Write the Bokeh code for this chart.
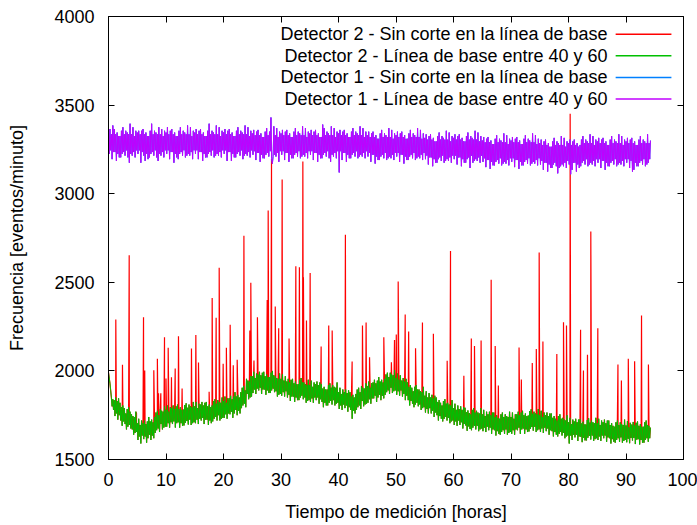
from bokeh.plotting import figure
from bokeh.models import Range1d, LinearAxis, FixedTicker, Label
from bokeh.embed import file_html
from bokeh.resources import INLINE

# ---------------- data ----------------
STEP_H = 0.125  # sampling interval of the read-off series, hours (8 per hour)

# Detector 2 - baseline cut between 40 and 60 (green); one row per hour
det2_base = [
    1990, 1960, 1930, 1890, 1850, 1800, 1840, 1780,
    1835, 1745, 1850, 1760, 1830, 1725, 1845, 1750,
    1820, 1720, 1795, 1690, 1805, 1715, 1790, 1700,
    1760, 1670, 1785, 1685, 1795, 1695, 1770, 1675,
    1755, 1670, 1745, 1640, 1740, 1650, 1770, 1655,
    1705, 1610, 1730, 1630, 1695, 1590, 1720, 1635,
    1705, 1615, 1720, 1630, 1700, 1595, 1715, 1620,
    1740, 1640, 1715, 1610, 1725, 1635, 1710, 1620,
    1740, 1650, 1765, 1665, 1775, 1675, 1750, 1655,
    1785, 1700, 1775, 1670, 1770, 1680, 1800, 1685,
    1780, 1685, 1805, 1705, 1770, 1680, 1795, 1710,
    1790, 1700, 1805, 1715, 1785, 1680, 1800, 1705,
    1810, 1710, 1785, 1680, 1795, 1705, 1780, 1690,
    1782, 1692, 1807, 1707, 1817, 1717, 1792, 1697,
    1810, 1725, 1800, 1695, 1795, 1705, 1825, 1710,
    1800, 1705, 1825, 1725, 1790, 1700, 1815, 1730,
    1810, 1720, 1825, 1735, 1805, 1700, 1820, 1725,
    1825, 1725, 1800, 1695, 1810, 1720, 1795, 1705,
    1805, 1715, 1830, 1730, 1840, 1740, 1815, 1720,
    1835, 1750, 1825, 1720, 1820, 1730, 1850, 1735,
    1830, 1735, 1855, 1755, 1820, 1730, 1845, 1760,
    1845, 1755, 1860, 1770, 1840, 1735, 1855, 1760,
    1880, 1780, 1855, 1750, 1865, 1775, 1850, 1760,
    1880, 1790, 1905, 1805, 1915, 1815, 1890, 1795,
    1955, 1870, 1945, 1840, 1940, 1850, 1970, 1855,
    1970, 1875, 1995, 1895, 1960, 1870, 1985, 1900,
    1980, 1890, 1995, 1905, 1975, 1870, 1990, 1895,
    1995, 1895, 1970, 1865, 1980, 1890, 1965, 1875,
    1965, 1875, 1990, 1890, 2000, 1900, 1975, 1880,
    1970, 1885, 1960, 1855, 1955, 1865, 1985, 1870,
    1955, 1860, 1980, 1880, 1945, 1855, 1970, 1885,
    1940, 1850, 1955, 1865, 1935, 1830, 1950, 1855,
    1955, 1855, 1930, 1825, 1940, 1850, 1925, 1835,
    1925, 1835, 1950, 1850, 1960, 1860, 1935, 1840,
    1935, 1850, 1925, 1820, 1920, 1830, 1950, 1835,
    1920, 1825, 1945, 1845, 1910, 1820, 1935, 1850,
    1925, 1835, 1940, 1850, 1920, 1815, 1935, 1840,
    1925, 1825, 1900, 1795, 1910, 1820, 1895, 1805,
    1895, 1805, 1920, 1820, 1930, 1830, 1905, 1810,
    1920, 1835, 1910, 1805, 1905, 1815, 1935, 1820,
    1880, 1785, 1905, 1805, 1870, 1780, 1895, 1810,
    1880, 1790, 1895, 1805, 1875, 1770, 1890, 1795,
    1880, 1780, 1855, 1730, 1865, 1775, 1850, 1760,
    1870, 1780, 1895, 1795, 1905, 1805, 1880, 1785,
    1915, 1830, 1905, 1800, 1900, 1810, 1930, 1815,
    1915, 1820, 1940, 1840, 1905, 1815, 1930, 1845,
    1935, 1845, 1950, 1860, 1930, 1825, 1945, 1850,
    1965, 1865, 1940, 1835, 1950, 1860, 1935, 1845,
    1955, 1865, 1980, 1880, 1990, 1890, 1965, 1870,
    1990, 1905, 1980, 1875, 1975, 1885, 2005, 1890,
    1960, 1865, 1985, 1885, 1950, 1860, 1975, 1890,
    1945, 1855, 1960, 1870, 1940, 1835, 1955, 1860,
    1935, 1835, 1910, 1805, 1920, 1830, 1905, 1815,
    1885, 1795, 1910, 1810, 1920, 1820, 1895, 1800,
    1895, 1810, 1885, 1780, 1880, 1790, 1910, 1795,
    1860, 1765, 1885, 1785, 1850, 1760, 1875, 1790,
    1850, 1760, 1865, 1775, 1845, 1740, 1860, 1765,
    1850, 1750, 1825, 1720, 1835, 1745, 1820, 1730,
    1805, 1715, 1830, 1730, 1840, 1740, 1815, 1720,
    1820, 1735, 1810, 1705, 1805, 1715, 1835, 1720,
    1790, 1695, 1815, 1715, 1780, 1690, 1805, 1720,
    1785, 1695, 1800, 1710, 1780, 1675, 1795, 1700,
    1792, 1692, 1767, 1662, 1777, 1687, 1762, 1672,
    1755, 1665, 1780, 1680, 1790, 1690, 1765, 1670,
    1775, 1690, 1765, 1660, 1760, 1670, 1790, 1675,
    1755, 1660, 1780, 1680, 1745, 1655, 1770, 1685,
    1755, 1665, 1770, 1680, 1750, 1645, 1765, 1670,
    1765, 1665, 1740, 1635, 1750, 1660, 1735, 1645,
    1730, 1640, 1755, 1655, 1765, 1665, 1740, 1645,
    1755, 1670, 1745, 1640, 1740, 1650, 1770, 1655,
    1740, 1645, 1765, 1665, 1730, 1640, 1755, 1670,
    1755, 1665, 1770, 1680, 1750, 1645, 1765, 1670,
    1775, 1675, 1750, 1645, 1760, 1670, 1745, 1655,
    1748, 1658, 1773, 1673, 1783, 1683, 1758, 1663,
    1770, 1685, 1760, 1655, 1755, 1665, 1785, 1670,
    1750, 1655, 1775, 1675, 1740, 1650, 1765, 1680,
    1750, 1660, 1765, 1675, 1745, 1640, 1760, 1665,
    1760, 1660, 1735, 1630, 1745, 1655, 1730, 1640,
    1720, 1630, 1745, 1645, 1755, 1655, 1730, 1635,
    1735, 1650, 1725, 1620, 1720, 1630, 1750, 1635,
    1710, 1590, 1735, 1635, 1700, 1610, 1725, 1640,
    1715, 1625, 1730, 1640, 1710, 1605, 1725, 1630,
    1728, 1628, 1703, 1598, 1713, 1623, 1698, 1608,
    1698, 1608, 1723, 1623, 1733, 1633, 1708, 1613,
    1720, 1635, 1710, 1605, 1705, 1615, 1735, 1620,
    1705, 1610, 1730, 1630, 1695, 1605, 1720, 1635,
    1710, 1620, 1725, 1635, 1705, 1600, 1720, 1625,
    1720, 1620, 1695, 1590, 1705, 1615, 1690, 1600,
    1685, 1595, 1710, 1610, 1720, 1620, 1695, 1600,
    1710, 1625, 1700, 1595, 1695, 1605, 1725, 1610,
    1692, 1597, 1717, 1617, 1682, 1592, 1707, 1622,
    1697, 1607, 1712, 1622, 1692, 1587, 1707, 1612,
    1715, 1615, 1690, 1585, 1700, 1610, 1685, 1595,
    1685, 1595, 1710, 1610, 1720, 1620, 1695, 1600,
    1690, 1620, 1680,
]

# Detector 2 - no baseline cut (red): same as green plus these spikes
det2_spike_t = [
    1.27, 2.43, 3.6, 4.87, 6.09, 6.3, 7.88, 8.5, 8.7, 9.1, 9.74, 10.0,
    10.38, 10.95, 11.6, 12.17, 12.8, 14.43, 15.19, 15.65, 17.5, 18.03,
    18.72, 19.25, 19.94, 20.5, 21.16, 21.7, 22.38, 23.55, 24.58, 24.75,
    25.3, 25.9, 27.6, 27.77, 28.35, 29.0, 29.6, 30.2, 31.4, 32.58, 33.2,
    33.8, 33.9, 34.43, 35.07, 36.98, 38.3, 38.9, 41.2, 42.37, 44.17, 44.8,
    45.4, 47.88, 49.2, 49.74, 50.05, 50.38, 51.6, 52.2, 53.4, 54.6, 56.5,
    58.9, 59.48, 61.8, 63.1, 63.65, 64.8, 66.55, 67.25, 67.8, 71.4, 71.8,
    73.7, 74.4, 74.9, 75.55, 77.97, 79.13, 79.65, 80.29, 82.1, 82.6, 83.3,
    83.88, 85.1, 88.6, 89.2, 90.4, 91.5, 92.7, 93.9,
]
det2_spike_v = [
    2290, 2034, 2653, 1761, 2303, 2002, 2004, 2068, 1874, 1874, 2190, 1957,
    2130, 1964, 2013, 2196, 1900, 2126, 2203, 2047, 1882, 2412,
    2300, 2582, 2040, 2130, 2260, 2032, 2063, 2762, 2228, 2497,
    2059, 2303, 2400, 2905, 3197, 2363, 2241, 3080, 2183, 2591, 2585,
    3182, 2529, 2284, 2553, 2138, 2256, 2228, 2768, 2053, 2256, 2273,
    2077, 2190, 2049, 2175, 2205, 2504, 2318, 2222, 2128, 2273, 2209,
    2057, 2677, 1972, 2183, 2140, 2172, 2514, 2140, 1918, 2132, 1951,
    2045, 2124, 2668, 2166, 2096, 2275, 2256, 3451, 2232, 2002, 2091,
    2787, 2241, 2036, 1946, 2068, 2055, 2313, 2036,
]

# Detector 1 - baseline cut between 40 and 60 (violet); one row per hour
det1_base = [
    3345, 3225, 3365, 3245, 3335, 3195, 3385, 3235,
    3365, 3235, 3335, 3185, 3345, 3225, 3325, 3205,
    3325, 3205, 3355, 3225, 3375, 3235, 3335, 3215,
    3355, 3245, 3345, 3205, 3335, 3175, 3395, 3225,
    3335, 3215, 3375, 3235, 3325, 3205, 3355, 3245,
    3345, 3225, 3355, 3245, 3335, 3175, 3355, 3235,
    3365, 3215, 3335, 3185, 3345, 3225, 3325, 3195,
    3325, 3205, 3355, 3225, 3395, 3235, 3335, 3215,
    3355, 3245, 3345, 3205, 3335, 3185, 3375, 3225,
    3335, 3215, 3365, 3235, 3325, 3205, 3355, 3245,
    3345, 3225, 3375, 3245, 3335, 3195, 3355, 3235,
    3365, 3235, 3335, 3175, 3345, 3225, 3325, 3205,
    3325, 3195, 3355, 3225, 3375, 3235, 3335, 3215,
    3355, 3245, 3345, 3205, 3335, 3215, 3385, 3225,
    3335, 3215, 3375, 3235, 3325, 3195, 3355, 3245,
    3345, 3225, 3365, 3245, 3335, 3195, 3355, 3235,
    3365, 3235, 3335, 3185, 3345, 3225, 3325, 3205,
    3325, 3205, 3355, 3225, 3395, 3235, 3335, 3215,
    3355, 3245, 3345, 3205, 3335, 3215, 3385, 3225,
    3335, 3215, 3375, 3235, 3325, 3205, 3355, 3245,
    3345, 3225, 3365, 3245, 3335, 3185, 3355, 3235,
    3365, 3235, 3335, 3185, 3345, 3225, 3325, 3205,
    3325, 3205, 3355, 3225, 3375, 3235, 3335, 3215,
    3355, 3245, 3345, 3195, 3335, 3215, 3385, 3225,
    3335, 3215, 3375, 3235, 3325, 3205, 3355, 3245,
    3340, 3220, 3360, 3240, 3330, 3190, 3350, 3230,
    3360, 3230, 3330, 3180, 3340, 3220, 3320, 3200,
    3320, 3200, 3350, 3220, 3370, 3230, 3330, 3210,
    3350, 3240, 3430, 3200, 3170, 3210, 3380, 3220,
    3330, 3210, 3370, 3230, 3320, 3180, 3350, 3240,
    3340, 3220, 3360, 3240, 3330, 3190, 3350, 3230,
    3360, 3230, 3330, 3180, 3340, 3220, 3320, 3200,
    3320, 3200, 3350, 3220, 3370, 3230, 3330, 3210,
    3350, 3240, 3340, 3200, 3330, 3210, 3380, 3220,
    3330, 3210, 3370, 3230, 3320, 3200, 3350, 3240,
    3340, 3220, 3360, 3240, 3330, 3190, 3350, 3230,
    3360, 3230, 3330, 3180, 3340, 3220, 3320, 3200,
    3320, 3200, 3390, 3220, 3370, 3230, 3330, 3210,
    3350, 3240, 3340, 3200, 3330, 3180, 3380, 3220,
    3330, 3210, 3370, 3230, 3320, 3200, 3350, 3240,
    3340, 3120, 3360, 3240, 3330, 3190, 3350, 3230,
    3360, 3230, 3330, 3180, 3340, 3220, 3320, 3200,
    3320, 3200, 3350, 3220, 3370, 3230, 3330, 3210,
    3350, 3240, 3340, 3200, 3330, 3210, 3380, 3220,
    3330, 3210, 3370, 3230, 3320, 3200, 3350, 3240,
    3330, 3210, 3350, 3230, 3320, 3180, 3340, 3220,
    3350, 3220, 3320, 3170, 3330, 3210, 3310, 3190,
    3310, 3190, 3340, 3210, 3360, 3220, 3320, 3200,
    3340, 3230, 3330, 3190, 3320, 3200, 3370, 3210,
    3320, 3200, 3360, 3220, 3310, 3190, 3340, 3230,
    3330, 3210, 3350, 3230, 3320, 3180, 3340, 3220,
    3350, 3220, 3320, 3170, 3330, 3210, 3310, 3190,
    3310, 3190, 3340, 3210, 3360, 3220, 3320, 3200,
    3340, 3230, 3330, 3190, 3320, 3200, 3370, 3210,
    3320, 3200, 3360, 3220, 3310, 3190, 3340, 3230,
    3315, 3195, 3335, 3215, 3305, 3165, 3325, 3205,
    3335, 3205, 3305, 3155, 3315, 3195, 3295, 3175,
    3295, 3175, 3325, 3195, 3345, 3205, 3305, 3185,
    3325, 3215, 3315, 3175, 3305, 3185, 3355, 3195,
    3305, 3185, 3345, 3205, 3295, 3175, 3325, 3215,
    3315, 3195, 3335, 3215, 3305, 3165, 3325, 3205,
    3335, 3205, 3305, 3155, 3315, 3195, 3295, 3175,
    3295, 3175, 3325, 3195, 3345, 3205, 3305, 3145,
    3325, 3215, 3315, 3175, 3305, 3185, 3355, 3195,
    3305, 3185, 3345, 3205, 3295, 3175, 3325, 3215,
    3300, 3180, 3320, 3200, 3290, 3150, 3310, 3190,
    3320, 3190, 3290, 3140, 3300, 3180, 3280, 3160,
    3280, 3160, 3310, 3180, 3330, 3190, 3290, 3170,
    3310, 3200, 3300, 3160, 3290, 3170, 3340, 3180,
    3290, 3170, 3330, 3190, 3280, 3160, 3310, 3200,
    3300, 3180, 3320, 3200, 3290, 3150, 3310, 3190,
    3320, 3190, 3290, 3140, 3300, 3180, 3280, 3160,
    3280, 3160, 3310, 3180, 3330, 3190, 3290, 3170,
    3310, 3200, 3300, 3160, 3290, 3170, 3340, 3180,
    3290, 3170, 3330, 3190, 3280, 3160, 3310, 3200,
    3285, 3165, 3305, 3185, 3275, 3135, 3295, 3175,
    3305, 3175, 3275, 3125, 3285, 3165, 3265, 3145,
    3265, 3145, 3295, 3165, 3315, 3175, 3275, 3155,
    3295, 3115, 3285, 3145, 3275, 3155, 3325, 3165,
    3275, 3155, 3315, 3175, 3265, 3145, 3295, 3185,
    3285, 3165, 3305, 3110, 3275, 3135, 3295, 3175,
    3305, 3175, 3275, 3125, 3285, 3165, 3265, 3145,
    3275, 3155, 3305, 3175, 3325, 3185, 3285, 3165,
    3305, 3195, 3295, 3155, 3285, 3165, 3335, 3175,
    3285, 3165, 3325, 3185, 3275, 3155, 3305, 3195,
    3295, 3175, 3315, 3195, 3285, 3145, 3305, 3185,
    3315, 3185, 3285, 3135, 3295, 3175, 3275, 3155,
    3275, 3155, 3305, 3175, 3325, 3185, 3285, 3165,
    3305, 3195, 3295, 3155, 3285, 3165, 3335, 3175,
    3285, 3165, 3325, 3185, 3275, 3155, 3305, 3195,
    3295, 3175, 3315, 3195, 3285, 3145, 3305, 3185,
    3315, 3125, 3285, 3135, 3295, 3175, 3275, 3155,
    3275, 3155, 3305, 3175, 3325, 3185, 3285, 3165,
    3305, 3195, 3295, 3155, 3285, 3165, 3335, 3175,
    3285, 3195, 3300,
]
# Detector 1 - no baseline cut (blue): indistinguishable from the violet trace
det1_sin = list(det1_base)

series_labels = [
    "Detector 2 - Sin corte en la línea de base",
    "Detector 2 - Línea de base entre 40 y 60",
    "Detector 1 - Sin corte en la línea de base",
    "Detector 1 - Línea de base entre 40 y 60",
]
series_colors = ["#ff0000", "#00c000", "#0080ff", "#c000ff"]

x_ticks = [0, 10, 20, 30, 40, 50, 60, 70, 80, 90, 100]
y_ticks = [1500, 2000, 2500, 3000, 3500, 4000]

# ---------------- derived coordinates ----------------
t_base = [i * STEP_H for i in range(len(det2_base))]
t_det1 = [i * STEP_H for i in range(len(det1_base))]
pairs = sorted(list(zip(t_base, det2_base)) + list(zip(det2_spike_t, det2_spike_v)))
t_red = [a for a, _ in pairs]
v_red = [b for _, b in pairs]

FONT = "Liberation Sans"
FS = "18px"

p = figure(width=697, height=525, output_backend="svg", toolbar_location=None,
           x_range=Range1d(0, 100), y_range=Range1d(1500, 4000),
           min_border_left=108, min_border_right=14, min_border_top=16,
           min_border_bottom=66)
p.background_fill_color = "white"
p.border_fill_color = "white"
p.outline_line_color = "black"
p.outline_line_width = 1
p.grid.visible = False

p.line(t_red, v_red, color=series_colors[0], line_width=1.2)
p.line(t_base, det2_base, color=series_colors[1], line_width=1)
p.line(t_det1, det1_sin, color=series_colors[2], line_width=1)
p.line(t_det1, det1_base, color=series_colors[3], line_width=1)

for ax in (p.xaxis[0], p.yaxis[0]):
    ax.axis_line_color = "black"
    ax.major_tick_line_color = "black"
    ax.major_tick_in = 6
    ax.major_tick_out = 0
    ax.minor_tick_line_color = None
    ax.major_label_text_font = FONT
    ax.major_label_text_font_size = FS
    ax.major_label_text_color = "black"
    ax.axis_label_text_font = FONT
    ax.axis_label_text_font_size = FS
    ax.axis_label_text_font_style = "normal"
    ax.axis_label_text_color = "black"

p.xaxis[0].ticker = FixedTicker(ticks=x_ticks)
p.yaxis[0].ticker = FixedTicker(ticks=y_ticks)
p.xaxis[0].axis_label = "Tiempo de medición [horas]"
p.yaxis[0].axis_label = "Frecuencia [eventos/minuto]"
p.xaxis[0].major_label_standoff = 13
p.yaxis[0].major_label_standoff = 14
p.xaxis[0].axis_label_standoff = 13
p.yaxis[0].axis_label_standoff = 24

# mirrored ticks on top and right
top = LinearAxis(ticker=FixedTicker(ticks=x_ticks))
right = LinearAxis(ticker=FixedTicker(ticks=y_ticks))
for ax in (top, right):
    ax.axis_line_color = None
    ax.major_tick_line_color = "black"
    ax.major_tick_in = 6
    ax.major_tick_out = 0
    ax.minor_tick_line_color = None
    ax.major_label_text_font_size = "0px"
    ax.major_label_text_color = None
    ax.major_label_standoff = 0
p.add_layout(top, "above")
p.add_layout(right, "right")

# gnuplot-style key: text right-aligned, line sample to its right
key_text_x = 86.8
key_line_x0, key_line_x1 = 88.2, 97.9
key_y0, key_dy = 3900, 122
for i, (lab, col) in enumerate(zip(series_labels, series_colors)):
    y = key_y0 - i * key_dy
    p.add_layout(Label(x=key_text_x, y=y, text=lab, text_align="right",
                       text_baseline="middle", text_font=FONT,
                       text_font_size=FS, text_color="black"))
    p.segment(x0=[key_line_x0], y0=[y], x1=[key_line_x1], y1=[y],
              color=col, line_width=1.5)

open("out.html", "w").write(file_html(p, INLINE))
